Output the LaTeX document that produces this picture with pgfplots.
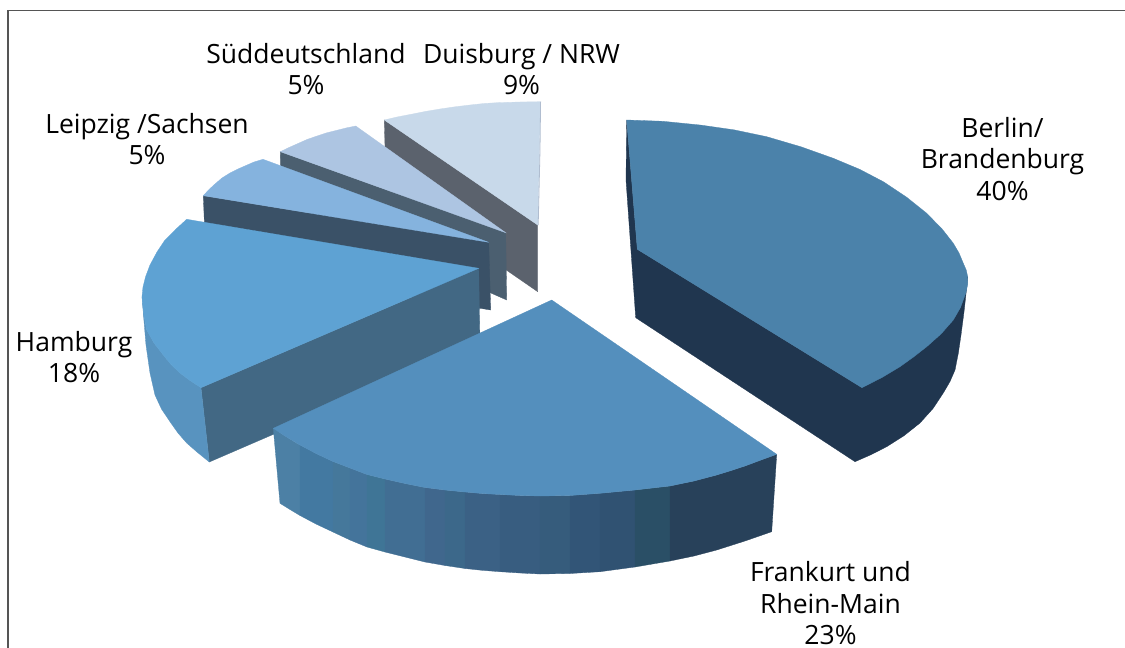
\documentclass[border=0pt]{standalone}
\usepackage{pgfplots}
\pgfplotsset{compat=1.18}
\usepackage{fontspec}
\setmainfont{Open Sans}
\definecolor{tDu}{HTML}{C8D9EA}
\definecolor{sDu}{HTML}{5B626D}
\definecolor{eDu}{HTML}{B0BDD0}
\definecolor{tSu}{HTML}{ADC5E2}
\definecolor{sSu}{HTML}{4B5F70}
\definecolor{tLe}{HTML}{85B3DE}
\definecolor{sLe}{HTML}{3A5167}
\definecolor{tHa}{HTML}{5EA2D3}
\definecolor{sHa}{HTML}{426884}
\definecolor{oHa}{HTML}{5893BF}
\definecolor{tFr}{HTML}{548FBD}
\definecolor{tBe}{HTML}{4B82AA}
\definecolor{sBe}{HTML}{20364F}
\definecolor{frame}{HTML}{555555}
\definecolor{fa}{HTML}{4C80A5}
\definecolor{fb}{HTML}{4379A1}
\definecolor{fc}{HTML}{45789B}
\definecolor{fd}{HTML}{44749B}
\definecolor{fe}{HTML}{3F7596}
\definecolor{ff}{HTML}{416E93}
\definecolor{fg}{HTML}{40678D}
\definecolor{fh}{HTML}{3C688A}
\definecolor{fi}{HTML}{3B6185}
\definecolor{fj}{HTML}{385D80}
\definecolor{fk}{HTML}{365C7C}
\definecolor{fl}{HTML}{325577}
\definecolor{fm}{HTML}{305272}
\definecolor{fn}{HTML}{2A4F66}
\definecolor{fo}{HTML}{28415A}
\pgfplotsset{poly/.style={fill=#1,draw=#1,line width=0.3pt,mark=none,forget plot}}
\newcommand{\lab}[3]{\node[align=center,font=\fontsize{26.5}{31.5}\selectfont,text=black,inner sep=0pt] at (axis cs:#1,#2) {#3};}
\begin{document}
\begin{tikzpicture}
\begin{axis}[
  scale only axis,width=1125pt,height=648pt,
  xmin=0,xmax=1125,ymin=0,ymax=648,y dir=reverse,
  hide axis,clip=true]
\addplot[fill=white,draw=none,mark=none,forget plot] coordinates {(0,0)(1125,0)(1125,648)(0,648)} --cycle;
\addplot[draw=frame,line width=1.3pt,mark=none,forget plot] coordinates {(8,10.5)(1125,10.5)};
\addplot[draw=frame,line width=2pt,mark=none,forget plot] coordinates {(8,660)(8,9.8)};
% Duisburg
\addplot[poly=sDu] coordinates {(384.3,120)(386,187)(537.7,291.7)(537.7,225)} --cycle;
\addplot[poly=tDu] coordinates {(384.3,120)(397,117)(410,114.5)(425,111.5)(440,109)(455,106.8)(470,105)(484,103.5)(497,102.7)(520,102)(540.3,101.7)(539.5,150)(537.7,225)} --cycle;
\addplot[draw=eDu,line width=0.8pt,mark=none,forget plot] coordinates {(540.6,101.7)(540,150)(538.2,225)};
% Sueddeutschland
\addplot[poly=sSu] coordinates {(280.3,151.7)(281,200)(506.7,300)(505.7,232.7)} --cycle;
\addplot[poly=tSu] coordinates {(280.3,151.7)(289,147.5)(298,143.5)(307,139.5)(317,136)(326,133)(336,130.5)(346,128)(355.7,126)(505.7,232.7)} --cycle;
% Leipzig
\addplot[poly=sLe] coordinates {(203.3,195.7)(206,263)(490.7,310)(488.7,242.3)} --cycle;
\addplot[poly=tLe] coordinates {(203.3,195.7)(209,189.5)(215,184)(222,178)(230,173)(238,169)(246,165.5)(254,162)(263,159.3)(488.7,242.3)} --cycle;
% Hamburg
\addplot[poly=sHa] coordinates {(201,387.7)(209.3,462)(480,345)(478.7,268.3)} --cycle;
\addplot[poly=oHa] coordinates {(142,296.7)(143.5,313)(146.7,330)(154,343)(163.3,355)(171,364.5)(180,373)(190,380.5)(201,387.7)(209.3,462)(197,452)(186.7,443)(178,433)(170,421.7)(161.5,409)(155,395)(150,373)(146,345)(143.3,313)} --cycle;
\addplot[poly=tHa] coordinates {(186.7,219.3)(175,230)(165,240)(157,252)(150,265)(145.5,277)(143,287)(142,296.7)(143.5,313)(146.7,330)(154,343)(163.3,355)(171,364.5)(180,373)(190,380.5)(201,387.7)(478.7,268.3)} --cycle;
% Frankfurt, side in bands
\addplot[poly=fa] coordinates {(273.3,428.3)(285,436)(296.7,443.3)(300,445)(300,515.5)(290,509.5)(280,503.3)} --cycle;
\addplot[poly=fb] coordinates {(300,445)(316,453.5)(333,461.5)(333,532)(316,524)(300,515.5)} --cycle;
\addplot[poly=fc] coordinates {(333,461.5)(350,468)(350,540)(333,532)} --cycle;
\addplot[poly=fd] coordinates {(350,468)(367,474.5)(367,547)(350,540)} --cycle;
\addplot[poly=fe] coordinates {(367,474.5)(385,479)(385,552)(367,547)} --cycle;
\addplot[poly=ff] coordinates {(385,479)(405,483.5)(425,487.5)(425,562)(405,557)(385,552)} --cycle;
\addplot[poly=fg] coordinates {(425,487.5)(445,490)(445,565.5)(425,562)} --cycle;
\addplot[poly=fh] coordinates {(445,490)(465,492)(465,568.5)(445,565.5)} --cycle;
\addplot[poly=fi] coordinates {(465,492)(482,493.5)(500,494.5)(500,571.7)(482,570.3)(465,568.5)} --cycle;
\addplot[poly=fj] coordinates {(500,494.5)(520,495.5)(540,496)(540,574)(520,573)(500,571.7)} --cycle;
\addplot[poly=fk] coordinates {(540,496)(570,495.5)(570,573.5)(540,574)} --cycle;
\addplot[poly=fl] coordinates {(570,495.5)(600,493.3)(600,571.7)(570,573.5)} --cycle;
\addplot[poly=fm] coordinates {(600,493.3)(635,490)(635,567)(600,571.7)} --cycle;
\addplot[poly=fn] coordinates {(635,490)(670,486)(670,561)(635,567)} --cycle;
\addplot[poly=fo] coordinates {(670,486)(694,481)(716.7,475)(732,470.3)(745,466)(761,460)(776.7,454.3)(771.7,531.7)(745,541)(716.7,550)(694,556)(670,561)} --cycle;
\addplot[poly=tFr] coordinates {(551.7,300)(776.7,454.3)(761,460)(745,466)(732,470.3)(716.7,475)(694,481)(670,486)(635,490)(600,493.3)(570,495.5)(540,496)(520,495.5)(500,494.5)(482,493.5)(465,492)(445,490)(425,487.5)(405,483.5)(385,479)(367,474.5)(350,468)(333,461.5)(316,453.5)(300,445)(285,436)(273.3,428.3)} --cycle;
% Berlin
\addplot[poly=sBe] coordinates {(626.7,120)(626,180)(635.7,317.7)(855,461.7)(871,454.7)(886.7,446.7)(904,435.7)(920,423)(933,408.5)(943.3,393)(950,381.5)(955,370)(958.3,353.3)(961,335)(964,312)(965.7,296.7)(967.7,276.7)(862,387.7)(637.3,249.3)} --cycle;
\addplot[poly=tBe] coordinates {(626.7,120)(663,121.3)(700,125)(733.8,129.8)(766.7,136.7)(801,146.8)(833.3,158.3)(859.8,169.4)(883.3,181.7)(906.5,197.1)(926.7,213.3)(942.1,229)(953.3,243.3)(959,253)(963.3,263.3)(966.2,270)(967.7,276.7)(967.6,285)(965.7,293.3)(960.5,307.5)(953.3,320)(941,334)(926.7,346.7)(913.5,357)(900,366.7)(882,377.5)(862,387.7)(637.3,249.3)} --cycle;
% labels
\lab{306}{69}{Süddeutschland\\5\%}
\lab{521.5}{69}{Duisburg / NRW\\9\%}
\lab{147}{139}{Leipzig /Sachsen\\5\%}
\lab{1002.5}{159}{Berlin/\\Brandenburg\\40\%}
\lab{74}{357}{Hamburg\\18\%}
\lab{830.5}{603.5}{Frankurt und\\Rhein-Main\\23\%}
\end{axis}
\end{tikzpicture}
\end{document}
